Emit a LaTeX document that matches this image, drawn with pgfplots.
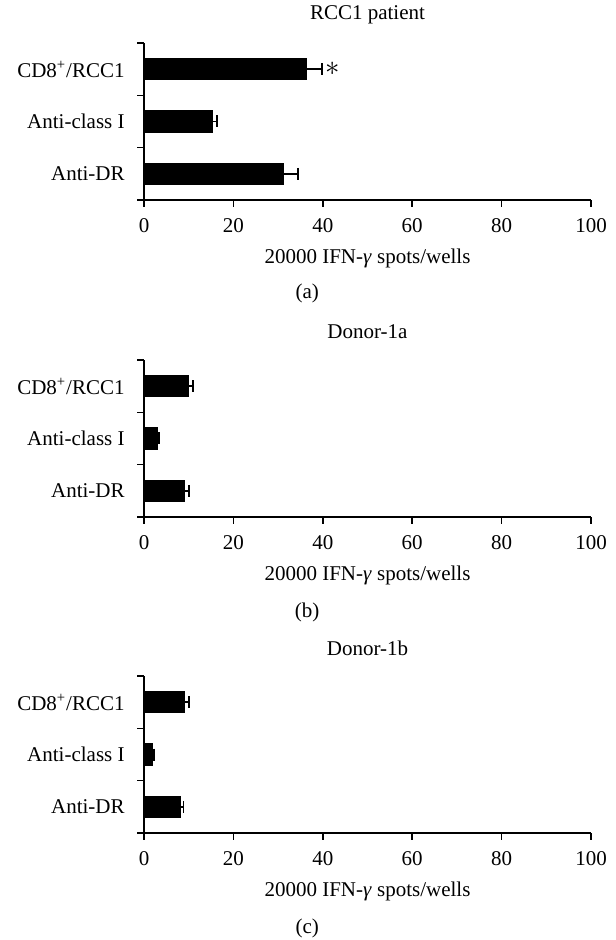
\documentclass[border=0pt]{standalone}
\usepackage{pgfplots}
\pgfplotsset{compat=1.18}
\usepackage{pgfplotstable}
\usepackage{fontspec}
\setmainfont{Liberation Serif}

% pos = category position, val = bar length, err = upper error
\pgfplotstableread{
pos val err
2.5 36.3 3.5
1.5 15.2 1.1
0.5 31.2 3.2
}\rcc
\pgfplotstableread{
pos val err
2.5 10.0 1.0
1.5 3.0 0.4
0.5 9.0 1.0
}\donora
\pgfplotstableread{
pos val err
2.5 9.0 1.0
1.5 1.9 0.4
0.5 8.1 0.7
}\donorb

\pgfplotsset{
  panel/.style={
    scale only axis, width=223.5pt, height=78.5pt, anchor=south west,
    xmin=0, xmax=100, ymin=0, ymax=3, enlargelimits=false,
    axis x line=bottom, axis y line=left, axis line style={-, line width=0.8pt},
    tick align=outside, major tick length=3.5pt,
    tick style={line width=0.8pt, black},
    /pgf/number format/assume math mode=true,
    xtick={0,20,...,100},
    ytick={0.5,1.5,2.5},
    yticklabels={Anti-DR, Anti-class I, CD8\textsuperscript{+}/RCC1},
    ytick style={draw=none},
    yticklabel style={anchor=east, inner sep=0pt, xshift=-6pt},
    extra y ticks={0,1,2,3}, extra y tick labels={},
    extra y tick style={ytick style={draw=black}},
    xticklabel style={yshift=-2pt},
    xlabel={20000 IFN-\textit{γ} spots/wells},
    xlabel style={at={(axis description cs:0.5,0)}, anchor=center, yshift=-29pt},
    every axis title shift=0pt,
    title style={at={(axis description cs:0.5,1)}, anchor=center, yshift=14pt},
    clip=false,
  },
  bars/.style={xbar, bar width=0.41, fill=black, draw=black,
    error bars/.cd, x dir=plus, x explicit,
    error bar style={line width=0.8pt, black},
    error mark options={rotate=90, line width=0.8pt, mark size=3pt, black}},
}

\begin{document}
\fontsize{10.5}{12}\selectfont
\begin{tikzpicture}
\useasboundingbox (0,0) rectangle (307.5pt,470pt);

\begin{axis}[panel, at={(72pt,370pt)}, title={RCC1 patient}]
\addplot[bars] table[x=val, y=pos, x error=err] {\rcc};
\node at (axis cs:42.2,2.5) {\Large$\ast$};
\node at (axis description cs:0.365,0) [yshift=-46.5pt] {(a)};
\end{axis}

\begin{axis}[panel, at={(72pt,211.5pt)}, title={Donor-1a}]
\addplot[bars] table[x=val, y=pos, x error=err] {\donora};
\node at (axis description cs:0.365,0) [yshift=-47.5pt] {(b)};
\end{axis}

\begin{axis}[panel, at={(72pt,53.5pt)}, title={Donor-1b}]
\addplot[bars] table[x=val, y=pos, x error=err] {\donorb};
\node at (axis description cs:0.365,0) [yshift=-47.5pt] {(c)};
\end{axis}
\end{tikzpicture}
\end{document}
